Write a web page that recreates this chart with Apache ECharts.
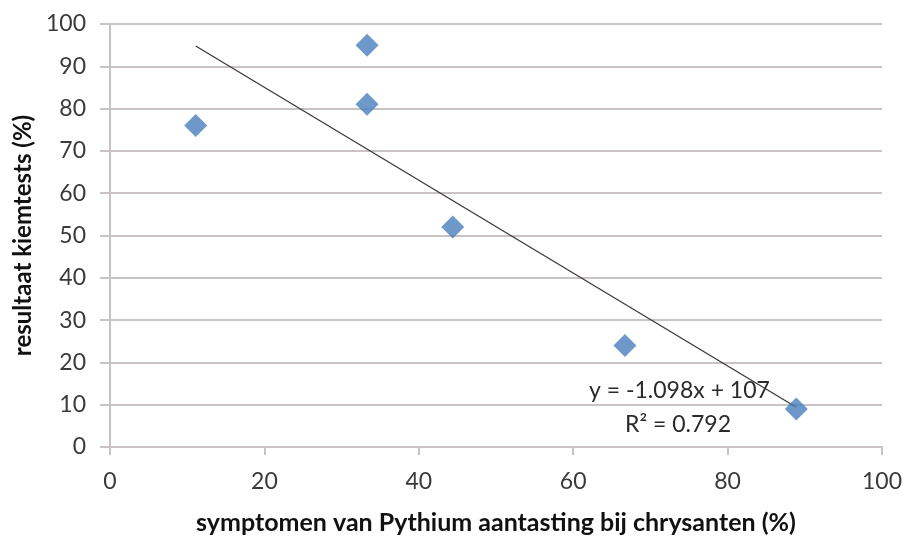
<!DOCTYPE html>
<html><head><meta charset="utf-8">
<script src="https://cdn.jsdelivr.net/npm/echarts@6/dist/echarts.min.js"></script>
<style>html,body{margin:0;padding:0;background:#fff}#c{width:905px;height:540px}</style>
</head><body><div id="c"></div>
<script>
const xValues = [11.1, 33.3, 33.3, 44.4, 66.7, 88.9];
const yValues = [76, 95, 81, 52, 24, 9];
const trendX = [11.1, 88.9];
const trendY = [94.8, 9.4];
const xTicks = [0, 20, 40, 60, 80, 100];
const yTicks = [0, 10, 20, 30, 40, 50, 60, 70, 80, 90, 100];
const eqText = 'y = -1.098x + 107';
const r2Text = 'R² = 0.792';

const chart = echarts.init(document.getElementById('c'));
const font = 'Lato, "Open Sans", sans-serif';
const grey = '#c9c3c3';
chart.setOption({
  backgroundColor: '#fff',
  animation: false,
  grid: {left: 110, right: 22, top: 24, bottom: 92},
  xAxis: {
    type: 'value', min: 0, max: 100, interval: 20,
    name: 'symptomen van Pythium aantasting bij chrysanten (%)',
    nameLocation: 'middle', nameGap: 63,
    nameTextStyle: {fontFamily: font, fontSize: 25, fontWeight: 'bold', color: '#111'},
    axisLine: {show: true, lineStyle: {color: grey, width: 2}},
    axisTick: {show: true, length: 8, lineStyle: {color: grey, width: 2}},
    splitLine: {show: false},
    axisLabel: {fontFamily: font, fontSize: 23, color: '#3a3a3a', margin: 23,
      formatter: v => xTicks.includes(v) ? String(v) : ''}
  },
  yAxis: {
    type: 'value', min: 0, max: 100, interval: 10,
    name: 'resultaat kiemtests (%)',
    nameLocation: 'middle', nameGap: 70,
    nameTextStyle: {fontFamily: font, fontSize: 24, fontWeight: 'bold', color: '#111'},
    axisLine: {show: true, lineStyle: {color: grey, width: 2}},
    axisTick: {show: true, length: 10, inside: false, lineStyle: {color: grey, width: 2}},
    splitLine: {show: true, lineStyle: {color: grey, width: 2}},
    axisLabel: {fontFamily: font, fontSize: 23, color: '#3a3a3a', margin: 24,
      formatter: v => yTicks.includes(v) ? String(v) : ''}
  },
  series: [
    {
      type: 'line', data: trendX.map((x, i) => [x, trendY[i]]),
      symbol: 'none', lineStyle: {color: '#3a3a3a', width: 1.3}, z: 2
    },
    {
      type: 'scatter', data: xValues.map((x, i) => [x, yValues[i]]),
      symbol: 'diamond', symbolSize: [23, 23],
      itemStyle: {color: '#4a7ebd'}, z: 3
    }
  ],
  graphic: [
    {type: 'text', left: 589, top: 379, style: {text: eqText, font: '23px ' + font, fill: '#2a2a2a'}},
    {type: 'text', left: 625, top: 413, style: {text: r2Text, font: '23px ' + font, fill: '#2a2a2a'}}
  ]
});
</script></body></html>
